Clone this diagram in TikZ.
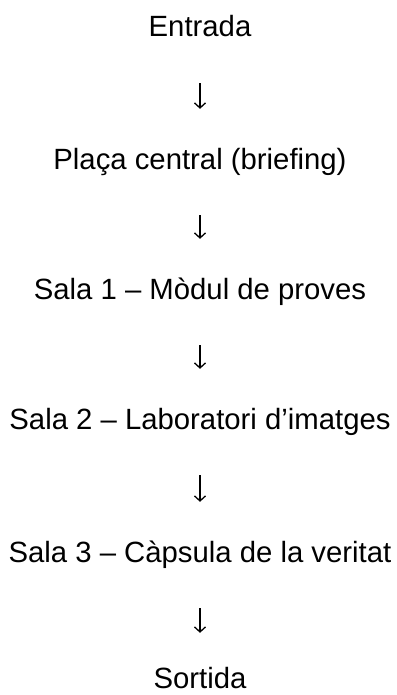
\documentclass[tikz,border=0pt]{standalone}
\usepackage{fontspec}
\setmainfont{Liberation Sans}
\usetikzlibrary{arrows.meta}

\tikzset{
  stage/.style={font=\fontsize{29.3}{34}\selectfont, inner sep=0pt,
    text height=22pt, text depth=6pt, anchor=base},
  flow/.style={-{Straight Barb[length=5pt,width=11pt]}, line width=1.3pt,
    shorten <=40pt, shorten >=38pt}
}

\begin{document}
\begin{tikzpicture}[x=1pt,y=-1pt]
    \useasboundingbox (0,0) rectangle (396,695);

    % Stages of the route
    \node[stage] (entrada) at (200,37) {Entrada};
    \node[stage] (placa) at (200,169) {Plaça central (briefing)};
    \node[stage] (sala1) at (200,299) {Sala 1 – Mòdul de proves};
    \node[stage] (sala2) at (200,429) {Sala 2 – Laboratori d’imatges};
    \node[stage] (sala3) at (200,562) {Sala 3 – Càpsula de la veritat};
    \node[stage] (sortida) at (200,688) {Sortida};

    % Arrows between stages
    \draw[flow] (entrada) -- (placa);
    \draw[flow] (placa) -- (sala1);
    \draw[flow] (sala1) -- (sala2);
    \draw[flow] (sala2) -- (sala3);
    \draw[flow, shorten >=33pt] (sala3) -- (sortida);
\end{tikzpicture}
\end{document}
